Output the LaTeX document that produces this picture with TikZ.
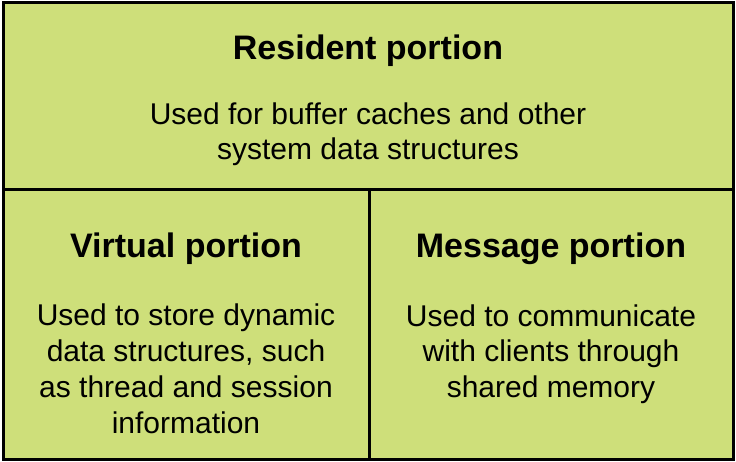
\documentclass[tikz,border=0pt]{standalone}
\usepackage{fontspec}
\setmainfont{Liberation Sans}
\usetikzlibrary{positioning}
\definecolor{portiongreen}{RGB}{206,223,122}
\tikzset{
  cell/.style={draw=black, line width=3pt, fill=portiongreen, inner sep=0pt, outer sep=0pt, anchor=north west},
  heading/.style={font=\fontsize{34}{40}\selectfont\bfseries, anchor=base, inner sep=0pt},
  blurb/.style={font=\fontsize{30}{35.7}\selectfont, align=center, anchor=base, inner sep=0pt}
}
\begin{document}
\begin{tikzpicture}[x=1pt,y=-1pt]
\useasboundingbox (0,0) rectangle (736,462);
\node[cell, minimum width=730pt, minimum height=187pt] (resident) at (3,3) {};
\node[cell, minimum width=366pt, minimum height=269pt] (virtual) at (3,190) {};
\node[cell, minimum width=364pt, minimum height=269pt] (message) at (369,190) {};
% base of a blurb is its last line
\node[heading] (restitle) at ([yshift=-57pt]resident.north) {Resident portion};
\node[blurb] (restext) at ([yshift=-157pt]resident.north) {Used for buffer caches and other\\system data structures};
\node[heading] (virttitle) at ([yshift=-68pt]virtual.north) {Virtual portion};
\node[blurb] (virttext) at ([yshift=-243pt]virtual.north) {Used to store dynamic\\data structures, such\\as thread and session\\information};
\node[heading] (msgtitle) at ([yshift=-68pt]message.north) {Message portion};
\node[blurb] (msgtext) at ([yshift=-207.5pt]message.north) {Used to communicate\\with clients through\\shared memory};
\end{tikzpicture}
\end{document}
